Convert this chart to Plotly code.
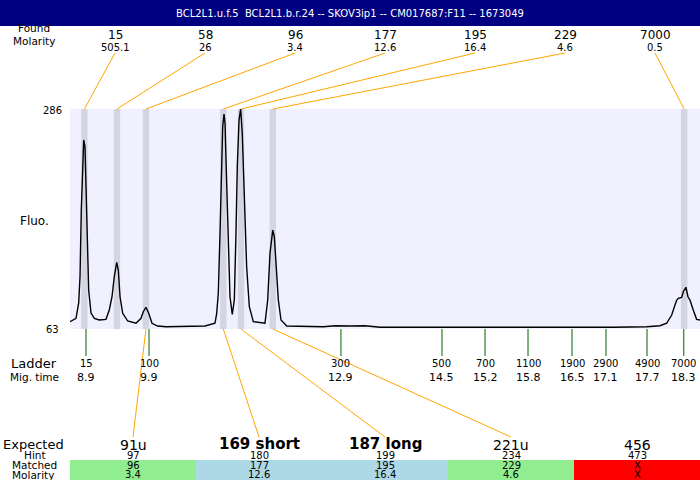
import plotly.graph_objects as go

# ---------------- data ----------------
title_text = "BCL2L1.u.f.5\u00a0\u00a0BCL2L1.b.r.24 -- SKOV3ip1 -- CM017687:F11 -- 1673049"

trace_time = [8.648, 8.743, 8.785, 8.806, 8.826, 8.848, 8.864, 8.884, 8.900, 8.920,
              8.942, 8.979, 9.031, 9.109, 9.214, 9.266, 9.309, 9.345, 9.383, 9.408,
              9.435, 9.477, 9.556, 9.686, 9.765, 9.801, 9.843, 9.886, 9.938, 10.027,
              10.158, 10.771, 10.928, 10.955, 10.980, 11.007, 11.034, 11.049, 11.070, 11.086,
              11.112, 11.137, 11.164, 11.200, 11.232, 11.258, 11.279, 11.306, 11.332, 11.357,
              11.389, 11.426, 11.468, 11.531, 11.714, 11.757, 11.793, 11.836, 11.861, 11.888,
              11.924, 11.966, 12.056, 12.631, 12.815, 13.051, 13.287, 13.523, 15.410, 17.186,
              17.716, 17.925, 18.030, 18.109, 18.161, 18.188, 18.213, 18.266, 18.291, 18.333,
              18.365, 18.396, 18.448, 18.501, 18.553]
trace_fluo = [70.4, 73.8, 89.4, 116.0, 183.6, 234.3, 254.6, 247.8, 200.8, 150.2,
              102.5, 79.2, 73.8, 72.1, 72.8, 82.3, 95.7, 116.0, 130.6, 122.8,
              95.7, 78.9, 71.1, 68.8, 73.8, 80.5, 85.0, 78.9, 68.8, 66.0,
              65.3, 66.0, 68.8, 78.9, 99.2, 160.0, 227.5, 268.0, 280.9, 271.5,
              210.7, 143.1, 95.7, 77.9, 92.4, 160.0, 227.5, 274.8, 286.0, 261.4,
              193.8, 126.1, 85.6, 70.4, 68.8, 92.4, 139.7, 163.3, 156.6, 132.9,
              92.4, 72.1, 66.0, 65.3, 66.3, 66.0, 66.3, 64.7, 64.5, 64.7,
              65.3, 66.3, 68.8, 77.2, 87.3, 92.4, 94.1, 95.1, 100.8, 105.3,
              95.7, 92.4, 82.3, 72.8, 72.1]

y_ticks = [63, 286]

peak_time = [8.875, 9.387, 9.843, 11.059, 11.337, 11.837, 18.305]
found_size = ["15", "58", "96", "177", "195", "229", "7000"]
found_molarity = ["505.1", "26", "3.4", "12.6", "16.4", "4.6", "0.5"]

ladder_size = ["15", "100", "300", "500", "700", "1100", "1900", "2900", "4900", "7000"]
ladder_time = [8.900, 9.891, 12.909, 14.497, 15.174, 15.850, 16.542, 17.076, 17.721, 18.299]

expected_label = ["91u", "169 short", "187 long", "221u", "456"]
expected_bold = [False, True, True, False, False]
expected_hint = ["97", "180", "199", "234", "473"]
expected_matched = ["96", "177", "195", "229", "X"]
expected_molarity = ["3.4", "12.6", "16.4", "4.6", "X"]
expected_status = ["unique", "isoform", "isoform", "unique", "missing"]
expected_peak = [2, 3, 4, 5, None]   # index into peak_time

# ---------------- styles / geometry ----------------
FONT = "DejaVu Sans"
STATUS_COLOR = {"unique": "#90EE90", "isoform": "#ADD8E6", "missing": "#FF0000"}
W, H = 700, 480
L, T, B = 70, 109, 329          # plot area pixel bounds
XMIN = 8.9 - 16 / 63.6
XMAX = 8.9 + 614 / 63.6


def px(x):  # page pixel x -> paper
    return (x - L) / (W - L)


def py(y):  # page pixel y -> paper
    return (B - y) / (B - T)


def paper_to_time(p):
    return XMIN + p * (XMAX - XMIN)


fig = go.Figure()
fig.add_trace(go.Scatter(x=trace_time, y=trace_fluo, mode="lines",
                         line=dict(color="black", width=1.4), hoverinfo="skip"))

shapes = []
annotations = []


def text(x, y, s, size=10, color="black", bold=False, xref="paper"):
    if bold:
        s = "<b>" + s + "</b>"
    annotations.append(dict(x=x, y=y, xref=xref, yref="paper", text=s, showarrow=False,
                            xanchor="center", yanchor="middle",
                            font=dict(family=FONT, size=size, color=color)))


# title bar
shapes.append(dict(type="rect", xref="paper", yref="paper", x0=px(0), x1=1,
                   y0=py(26), y1=py(-2), fillcolor="#000080", line=dict(width=0), layer="below"))
text(px(350), py(13.5), title_text, size=10, color="white")

# peak bands
for t in peak_time:
    shapes.append(dict(type="rect", xref="x", yref="paper", x0=t - 0.05, x1=t + 0.05,
                       y0=0, y1=1, fillcolor="#D4D4E2", line=dict(width=0), layer="below"))

# found labels + connectors
n = len(found_size)
text(px(34), py(28.5), "Found", size=10.5)
text(px(34), py(40.5), "Molarity", size=10.5)
for i, (s, m, t) in enumerate(zip(found_size, found_molarity, peak_time)):
    cx = (i + 0.5) / n
    text(cx, py(34.5), s, size=12)
    text(cx, py(47), m, size=10)
    shapes.append(dict(type="line", xref="x", yref="paper", x0=paper_to_time(cx), y0=py(53),
                       x1=t, y1=1, line=dict(color="orange", width=1)))

# y labels
text(px(52), py(111), str(y_ticks[1]), size=10)
text(px(52), py(329), str(y_ticks[0]), size=10)
text(px(34), py(221), "Fluo.", size=12)

# ladder
text(px(34), py(363), "Ladder", size=13)
text(px(34), py(376.5), "Mig. time", size=10.5)
for s, t in zip(ladder_size, ladder_time):
    shapes.append(dict(type="line", xref="x", yref="paper", x0=t, x1=t, y0=0, y1=py(356),
                       line=dict(color="#006400", width=1)))
    text(t, py(363.5), s, size=10, xref="x")
    text(t, py(377), f"{t:.1f}", size=11, xref="x")

# expected table
m = len(expected_label)
text(px(33), py(444), "Expected", size=13)
text(px(35), py(455), "Hint", size=10.5)
text(px(34), py(465), "Matched", size=10.5)
text(px(33), py(474.5), "Molarity", size=10.5)
for i in range(m):
    x0, x1 = i / m, (i + 1) / m
    cx = (x0 + x1) / 2
    shapes.append(dict(type="rect", xref="paper", yref="paper", x0=x0, x1=x1,
                       y0=py(481), y1=py(460), fillcolor=STATUS_COLOR[expected_status[i]],
                       line=dict(width=0), layer="below"))
    if expected_bold[i]:
        text(cx, py(444), expected_label[i], size=15, bold=True)
    else:
        text(cx, py(444.5), expected_label[i], size=14)
    text(cx, py(455), expected_hint[i], size=10)
    text(cx, py(465), expected_matched[i], size=10)
    text(cx, py(474.5), expected_molarity[i], size=10)
    if expected_peak[i] is not None:
        shapes.append(dict(type="line", xref="x", yref="paper", x0=peak_time[expected_peak[i]],
                           y0=0, x1=paper_to_time(cx), y1=py(437),
                           line=dict(color="orange", width=1)))

fig.update_layout(
    width=W, height=H,
    margin=dict(l=L, r=0, t=T, b=H - B, pad=0),
    paper_bgcolor="white", plot_bgcolor="#F0F0FF",
    showlegend=False,
    xaxis=dict(range=[XMIN, XMAX], visible=False, fixedrange=True),
    yaxis=dict(range=[63, 286], visible=False, fixedrange=True),
    shapes=shapes, annotations=annotations,
    font=dict(family=FONT),
)

fig.write_html("out.html", config={"displayModeBar": False},
               post_script="document.body.style.margin='0';document.body.style.overflow='hidden';")
